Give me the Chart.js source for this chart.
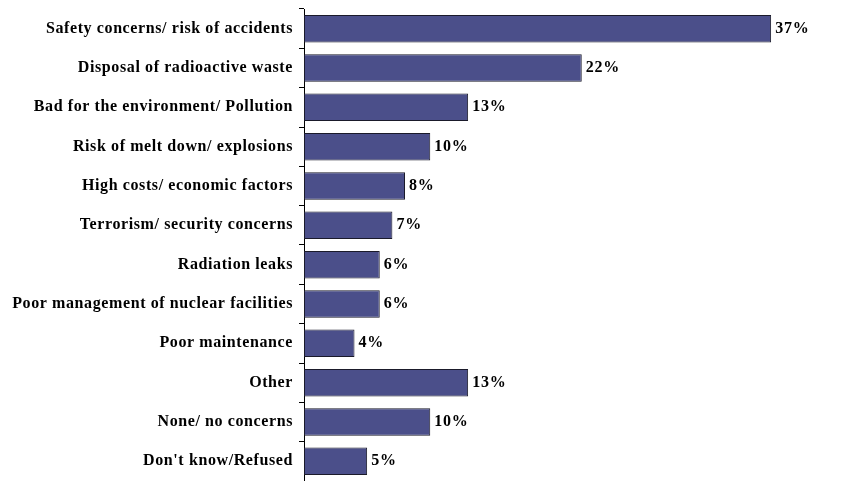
<!DOCTYPE html>
<html>
<head>
<meta charset="utf-8">
<script src="https://cdn.jsdelivr.net/npm/chart.js@4/dist/chart.umd.min.js"></script>
<style>
  html, body { margin: 0; padding: 0; background: #fff; }
  #wrap { width: 861px; height: 481px; }
</style>
</head>
<body>
<div id="wrap"><canvas id="concernsChart"></canvas></div>
<script>
const categories = [
  'Safety concerns/ risk of accidents',
  'Disposal of radioactive waste',
  'Bad for the environment/ Pollution',
  'Risk of melt down/ explosions',
  'High costs/ economic factors',
  'Terrorism/ security concerns',
  'Radiation leaks',
  'Poor management of nuclear facilities',
  'Poor maintenance',
  'Other',
  'None/ no concerns',
  "Don't know/Refused"
];
const percentages = [37, 22, 13, 10, 8, 7, 6, 6, 4, 13, 10, 5];

const labelFont = { family: '"Liberation Serif", "Times New Roman", serif', size: 16, weight: 'bold' };

// the original text is set a little loose, canvas can do that directly
const looseText = {
  id: 'looseText',
  beforeDraw(chart) { chart.ctx.letterSpacing = '0.6px'; }
};

// writes the percentage just past the end of each bar
const valueLabels = {
  id: 'valueLabels',
  afterDatasetsDraw(chart) {
    const ctx = chart.ctx;
    const meta = chart.getDatasetMeta(0);
    ctx.save();
    ctx.font = 'bold 16px "Liberation Serif", "Times New Roman", serif';
    ctx.letterSpacing = '0.8px';
    ctx.fillStyle = '#000';
    ctx.textAlign = 'left';
    ctx.textBaseline = 'middle';
    meta.data.forEach((bar, i) => {
      ctx.fillText(percentages[i] + '%', bar.x + 4, bar.y);
    });
    ctx.restore();
  }
};

const ctx = document.getElementById('concernsChart').getContext('2d');
const chart = new Chart(ctx, {
  type: 'bar',
  data: {
    labels: categories,
    datasets: [{
      data: percentages,
      backgroundColor: '#4b4f8a',
      borderColor: '#1a1a2a',
      borderWidth: 1,
      borderSkipped: false,
      categoryPercentage: 0.7,
      barPercentage: 1.0
    }]
  },
  options: {
    indexAxis: 'y',
    responsive: true,
    maintainAspectRatio: false,
    animation: false,
    layout: { padding: { top: 9, bottom: 0, left: 0, right: 52 } },
    plugins: {
      legend: { display: false },
      tooltip: { enabled: false }
    },
    scales: {
      x: {
        display: false,
        min: 0,
        max: 40
      },
      y: {
        afterFit(scale) {
          scale.width = 304;
          scale.paddingTop = 0;
          scale.paddingBottom = 0;
        },
        border: { display: true, color: '#000', width: 1 },
        grid: {
          offset: true,
          drawOnChartArea: false,
          drawTicks: true,
          tickLength: 5,
          color: '#000'
        },
        ticks: {
          color: '#000',
          font: labelFont,
          padding: 6
        }
      }
    }
  },
  plugins: [looseText, valueLabels]
});
</script>
</body>
</html>
